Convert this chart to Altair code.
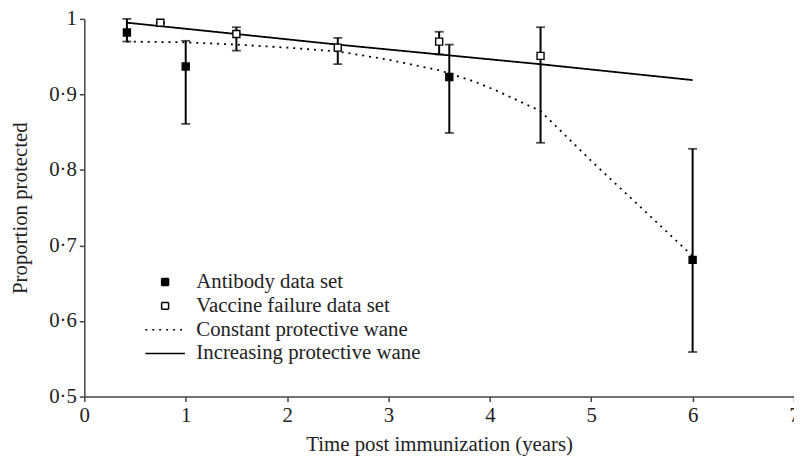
import altair as alt
import pandas as pd

series_names = ["Antibody data set", "Vaccine failure data set",
                "Constant protective wane", "Increasing protective wane"]

# Antibody data set (filled squares)
ab_x = [0.42, 1.0, 3.6, 6.0]
ab_y = [0.982, 0.937, 0.923, 0.681]
ab_lo = [0.970, 0.861, 0.849, 0.559]
ab_hi = [1.000, 0.971, 0.966, 0.828]

# Vaccine failure data set (open squares)
vf_x = [0.75, 1.5, 2.5, 3.5, 4.5]
vf_y = [0.995, 0.980, 0.962, 0.970, 0.951]
vf_lo = [0.995, 0.958, 0.940, 0.953, 0.836]
vf_hi = [0.995, 0.989, 0.975, 0.983, 0.989]

# Constant protective wane (dotted curve)
const_x = [0.42, 1.0, 1.5, 2.0, 2.5, 3.0, 3.5, 3.85, 4.05, 4.5, 5.0, 5.5, 6.0]
const_y = [0.970, 0.969, 0.966, 0.962, 0.957, 0.946, 0.932, 0.917, 0.906, 0.878, 0.812, 0.749, 0.686]

# Increasing protective wane (solid line)
inc_x = [0.42, 1.5, 2.5, 3.5, 4.5, 6.0]
inc_y = [0.995, 0.980, 0.966, 0.953, 0.940, 0.919]

x_ticks = [0, 1, 2, 3, 4, 5, 6, 7]
y_ticks = [0.5, 0.6, 0.7, 0.8, 0.9, 1.0]

FONT = "'Liberation Serif', 'Times New Roman', 'DejaVu Serif', serif"
INK = "#222222"

pts = pd.DataFrame(
    [{"series": series_names[0], "x": a, "y": b, "lo": c, "hi": d}
     for a, b, c, d in zip(ab_x, ab_y, ab_lo, ab_hi)]
    + [{"series": series_names[1], "x": a, "y": b, "lo": c, "hi": d}
       for a, b, c, d in zip(vf_x, vf_y, vf_lo, vf_hi)]
)
curves = pd.DataFrame(
    [{"series": series_names[2], "x": a, "y": b} for a, b in zip(const_x, const_y)]
    + [{"series": series_names[3], "x": a, "y": b} for a, b in zip(inc_x, inc_y)]
)

xscale = alt.Scale(domain=[0, 7], nice=False)
yscale = alt.Scale(domain=[0.5, 1.0], nice=False, zero=False)

xaxis = alt.Axis(values=x_ticks, format="d", grid=False, tickSize=5, labelPadding=3,
                 titlePadding=8, labelFlush=False, labelOverlap=False)
yaxis = alt.Axis(values=y_ticks, grid=False, tickSize=5, labelPadding=3, titlePadding=18,
                 labelExpr="datum.value == 1 ? '1' : replace(format(datum.value, '.1f'), '.', '·')")

X = alt.X("x:Q", scale=xscale, axis=xaxis, title="Time post immunization (years)")
Y = alt.Y("y:Q", scale=yscale, axis=yaxis, title="Proportion protected")

legend = alt.Legend(orient="none", legendX=71, legendY=255, title=None, symbolSize=49,
                    labelFontSize=21, labelFont=FONT, labelColor=INK, labelOffset=21,
                    symbolStrokeColor="black", symbolStrokeWidth=1.5, rowPadding=2,
                    labelLimit=400, padding=0)

lines = alt.Chart(curves).mark_line(color="black", strokeWidth=1.8).encode(
    x=X, y=Y,
    strokeDash=alt.StrokeDash("series:N", scale=alt.Scale(
        domain=series_names, range=[[1, 0], [1, 0], [2, 5], [1, 0]]), legend=legend),
)

rules = alt.Chart(pts).mark_rule(color="black", strokeWidth=2).encode(
    x=X, y=alt.Y("lo:Q", scale=yscale), y2="hi:Q")

caps_lo = alt.Chart(pts).mark_tick(color="black", orient="horizontal", size=9,
                                   thickness=1.8).encode(x=X, y=alt.Y("lo:Q", scale=yscale))
caps_hi = alt.Chart(pts).mark_tick(color="black", orient="horizontal", size=9,
                                   thickness=1.8).encode(x=X, y=alt.Y("hi:Q", scale=yscale))

points = alt.Chart(pts).mark_point(filled=True, size=50, stroke="black", strokeWidth=1.4,
                                   opacity=1).encode(
    x=X, y=Y,
    color=alt.Color("series:N", scale=alt.Scale(
        domain=series_names, range=["black", "white", "white", "white"]), legend=legend),
    shape=alt.Shape("series:N", scale=alt.Scale(
        domain=series_names, range=["square", "square", "M-5.7,0H5.7", "M-5.7,0H5.7"]),
        legend=legend),
)

chart = alt.layer(lines, rules, caps_lo, caps_hi, points).properties(
    width=716, height=381,
    autosize=alt.AutoSizeParams(type="none"),
    padding={"left": 77, "top": 9, "right": 0, "bottom": 62},
).configure_view(stroke=None).configure_axis(
    labelFont=FONT, titleFont=FONT, labelFontSize=21, titleFontSize=21,
    labelColor=INK, titleColor=INK, titleFontWeight="normal",
    domainColor="#444444", tickColor="#444444", domainWidth=1.5, tickWidth=1.5,
)

chart.save("out.html", embed_options={"renderer": "svg", "actions": False})
